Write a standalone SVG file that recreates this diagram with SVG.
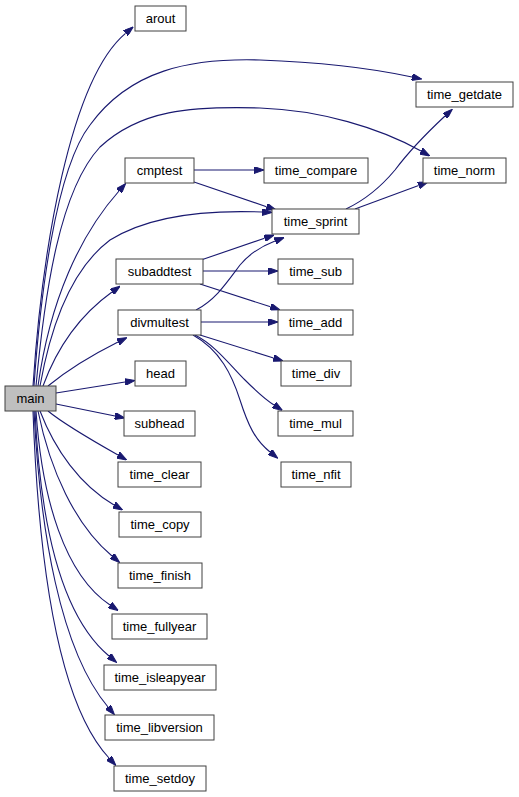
<svg xmlns="http://www.w3.org/2000/svg" width="519" height="797" viewBox="0 0 519 797">
<style>
.n rect{fill:#ffffff;stroke:#404040;stroke-width:1}
.m rect{fill:#bfbfbf;stroke:#404040;stroke-width:1}
text{font-family:"Liberation Sans",Arial,sans-serif;font-size:13px;fill:#000;text-anchor:middle}
.e path{fill:none;stroke:#191970;stroke-width:1.1;marker-end:url(#a)}
</style>
<defs>
<marker id="a" viewBox="0 0 10 7" refX="0" refY="3.5" markerWidth="10" markerHeight="7" markerUnits="userSpaceOnUse" orient="auto">
<path d="M0,0 L10,3.5 L0,7 z" fill="#191970" stroke="#191970"/>
</marker>
</defs>
<g id="edges" class="e">
<path d="M33,386 C42,250 70,80 125.5,33.3"/>
<path d="M34,386 C40,300 55,170 90,125 C130,70 190,58 260,60 C320,62 370,68 412,77"/>
<path d="M36,386 C45,290 60,190 100,147 C140,110 190,106 260,108 C320,110 380,128 421,151"/>
<path d="M38,386 C50,300 80,235 119,191"/>
<path d="M40,386 C50,330 70,270 110,240 C150,215 210,210 262,212"/>
<path d="M43,386 C58,345 80,315 112,292"/>
<path d="M48,386 C65,372 90,356 118,342"/>
<path d="M56,393 L125,382"/>
<path d="M56,404 L115,416"/>
<path d="M48,411 C65,425 95,442 118,455"/>
<path d="M40,411 C55,450 80,485 114,505"/>
<path d="M38,411 C50,470 75,525 112,556"/>
<path d="M36,411 C42,500 65,575 110,605"/>
<path d="M35,411 C40,520 60,615 109,656"/>
<path d="M34,411 C40,530 60,650 108,707"/>
<path d="M33,411 C38,550 55,700 109,758"/>
<path d="M194,170 L254,170"/>
<path d="M194,182 L266.5,206.7"/>
<path d="M201,260 L264.5,238.3"/>
<path d="M203,271 L268,271"/>
<path d="M200,284 L270.5,306.8"/>
<path d="M196,310 C215,300 225,285 240,265 C250,253 262,246 275,241"/>
<path d="M201,322 L268,322"/>
<path d="M200,335 L273.5,358"/>
<path d="M195,335 C215,345 230,365 245,380 C255,390 263,398 274,405"/>
<path d="M193,335 C220,350 232,375 240,400 C248,425 255,440 270,452"/>
<path d="M346,209 C365,200 380,188 395,170 C410,150 430,130 445,116"/>
<path d="M355,209 L418.6,185.5"/>
</g>
<g id="main" class="m"><rect x="5" y="386" width="51" height="25"/><text x="30.5" y="403">main</text></g>
<g id="arout" class="n"><rect x="135" y="6" width="51" height="25"/><text x="160.5" y="23">arout</text></g>
<g id="time_getdate" class="n"><rect x="416" y="82" width="97" height="25"/><text x="464.5" y="99">time_getdate</text></g>
<g id="cmptest" class="n"><rect x="125" y="158" width="69" height="25"/><text x="159.5" y="175">cmptest</text></g>
<g id="time_compare" class="n"><rect x="264" y="158" width="104" height="25"/><text x="316" y="175">time_compare</text></g>
<g id="time_norm" class="n"><rect x="423" y="158" width="83" height="25"/><text x="464.5" y="175">time_norm</text></g>
<g id="time_sprint" class="n"><rect x="272" y="209" width="87" height="25"/><text x="315.5" y="226">time_sprint</text></g>
<g id="subaddtest" class="n"><rect x="116" y="259" width="87" height="25"/><text x="159.5" y="276">subaddtest</text></g>
<g id="time_sub" class="n"><rect x="278" y="259" width="75" height="25"/><text x="315.5" y="276">time_sub</text></g>
<g id="divmultest" class="n"><rect x="118" y="310" width="83" height="25"/><text x="159.5" y="327">divmultest</text></g>
<g id="time_add" class="n"><rect x="278" y="310" width="75" height="25"/><text x="315.5" y="327">time_add</text></g>
<g id="head" class="n"><rect x="135" y="361" width="51" height="25"/><text x="160.5" y="378">head</text></g>
<g id="time_div" class="n"><rect x="281" y="361" width="70" height="25"/><text x="316" y="378">time_div</text></g>
<g id="subhead" class="n"><rect x="124" y="411" width="71" height="25"/><text x="159.5" y="428">subhead</text></g>
<g id="time_mul" class="n"><rect x="278" y="411" width="75" height="25"/><text x="315.5" y="428">time_mul</text></g>
<g id="time_clear" class="n"><rect x="118" y="462" width="83" height="25"/><text x="159.5" y="479">time_clear</text></g>
<g id="time_nfit" class="n"><rect x="281" y="462" width="70" height="25"/><text x="316" y="479">time_nfit</text></g>
<g id="time_copy" class="n"><rect x="119" y="512" width="82" height="25"/><text x="160" y="529">time_copy</text></g>
<g id="time_finish" class="n"><rect x="118" y="563" width="84" height="25"/><text x="160" y="580">time_finish</text></g>
<g id="time_fullyear" class="n"><rect x="112" y="614" width="95" height="25"/><text x="159.5" y="631">time_fullyear</text></g>
<g id="time_isleapyear" class="n"><rect x="104" y="665" width="112" height="25"/><text x="160" y="682">time_isleapyear</text></g>
<g id="time_libversion" class="n"><rect x="105" y="715" width="109" height="25"/><text x="159.5" y="732">time_libversion</text></g>
<g id="time_setdoy" class="n"><rect x="114" y="766" width="92" height="25"/><text x="160" y="783">time_setdoy</text></g>
</svg>
